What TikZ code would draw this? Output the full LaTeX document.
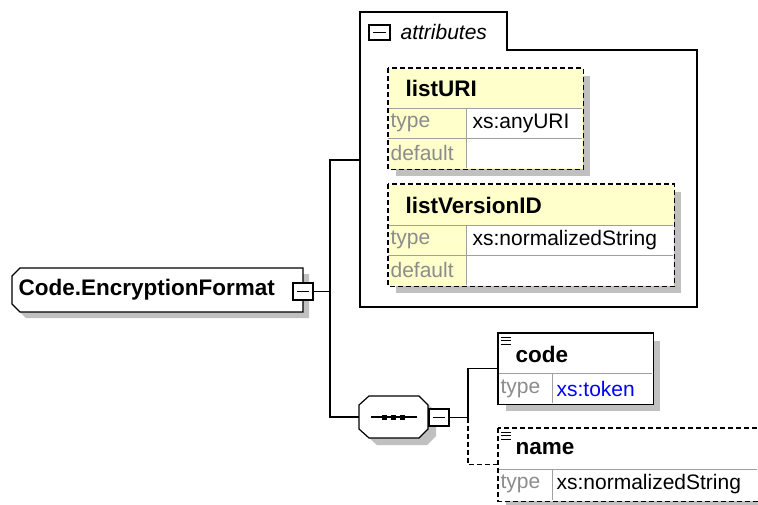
\documentclass[tikz,border=0pt]{standalone}
\usepackage{fontspec}
\setmainfont{Liberation Sans}
\usetikzlibrary{positioning}
\definecolor{xyellow}{HTML}{FFFFCC}
\definecolor{xshadow}{HTML}{C0C0C0}
\definecolor{xgrid}{HTML}{A0A0A0}
\definecolor{xlabel}{HTML}{8C8C8C}
\definecolor{xblue}{HTML}{0000FF}

\tikzset{
  shadowed/.style={preaction={fill=xshadow, transform canvas={shift={(7pt,-7pt)}}}},
  compbox/.style={rectangle, inner sep=0pt, anchor=north west, shadowed},
  attrbox/.style={compbox, fill=xyellow},
  elembox/.style={compbox, fill=white},
  dashborder/.style={dash pattern=on 5pt off 3pt},
  minusbox/.style={rectangle, draw, fill=white, inner sep=0pt, minimum width=20pt, minimum height=17pt,
    path picture={\draw ([xshift=4pt]path picture bounding box.west) -- ([xshift=-4pt]path picture bounding box.east);}},
  keytext/.style={font=\fontsize{21}{24}\selectfont, text=xlabel, anchor=west, inner sep=0pt},
  valtext/.style={font=\fontsize{21}{24}\selectfont, anchor=west, inner sep=0pt},
  titletext/.style={font=\fontsize{22.5}{26}\selectfont\bfseries, anchor=west, inner sep=0pt},
  cellline/.style={xgrid, line width=1pt},
  wire/.style={line width=1.3pt},
}

\begin{document}
\begin{tikzpicture}[x=1pt, y=-1pt, line width=1.2pt]

%% Background
\fill[white] (0,0) rectangle (758,504);
\useasboundingbox (0,0) rectangle (758,504);

%% ── Code.EncryptionFormat ───────────────────────────────────────────────
\fill[xshadow] (26,274) -- (309,274) -- (309,318) -- (26,318) -- (18,310) -- (18,282) -- cycle;
\draw[fill=white] (20,268) -- (303,268) -- (303,312) -- (20,312) -- (12,304) -- (12,276) -- cycle;
\node[titletext] (root) at (18,290) {Code.EncryptionFormat};
\node[minusbox] (rootminus) at (303,291.5) {};

%% ── attributes group ────────────────────────────────────────────────────
\draw[fill=white] (360,12) -- (507,12) -- (507,50) -- (697,50) -- (697,307) -- (360,307) -- cycle;
\node[minimum width=337pt, minimum height=295pt, inner sep=0pt, anchor=north west] (attrs) at (360,12) {};
\node[minusbox, minimum width=21pt, minimum height=15pt] (attrsminus) at (379.5,32.5) {};
\node[font=\fontsize{21}{24}\selectfont\itshape, anchor=west, inner sep=0pt] (attrslabel) at (400,32) {attributes};

%% listURI
\node[attrbox, minimum width=194pt, minimum height=100pt] (listuri) at (388,68) {};
\fill[white] (466,108) rectangle (582,168);
\draw[cellline] (388,108) -- (582,108) (388,138) -- (582,138) (466,108) -- (466,168);
\draw[dashborder] (listuri.north west) rectangle (listuri.south east);
\node[titletext] (listurititle) at (405,88) {listURI};
\node[keytext] at (390,123) {type};
\node[valtext] at (472,123) {xs:anyURI};
\node[keytext] at (390,153) {default};

%% listVersionID
\node[attrbox, minimum width=285pt, minimum height=101pt] (listver) at (388,184) {};
\fill[white] (466,225) rectangle (673,285);
\draw[cellline] (388,225) -- (673,225) (388,255) -- (673,255) (466,225) -- (466,285);
\draw[dashborder] (listver.north west) rectangle (listver.south east);
\node[titletext] (listvertitle) at (405,205) {listVersionID};
\node[keytext] at (390,240) {type};
\node[valtext] at (472,240) {xs:normalizedString};
\node[keytext] at (390,270) {default};

%% ── sequence ────────────────────────────────────────────────────────────
\node[minimum width=69pt, minimum height=42pt, inner sep=0pt, anchor=west] (seq) at (359,417) {};
\fill[xshadow] (377,403) -- (427,403) -- (436,412) -- (436,436) -- (427,445) -- (377,445) -- (367,436) -- (367,412) -- cycle;
\draw[fill=white] (369,396) -- (419,396) -- (428,405) -- (428,429) -- (419,438) -- (369,438) -- (359,429) -- (359,405) -- cycle;
\draw (371,417) -- (417,417);
\foreach \x in {384,393,402}
  \fill ({\x-2.5},414.5) rectangle ({\x+2.5},419.5);
\node[minusbox] (seqminus) at (439,417.5) {};

%% ── connectors ──────────────────────────────────────────────────────────
\coordinate (fork) at (330,291.5);
\coordinate (branch) at (468,417.5);
\draw[wire] (rootminus.east) -- (fork);
\draw[wire] (attrs.west) -| (fork) |- (seq.west);
\draw[wire] (seqminus.east) -- (branch);

%% ── code ────────────────────────────────────────────────────────────────
\node[elembox, minimum width=154pt, minimum height=70pt] (code) at (498,333) {};
\draw[cellline] (498,373) -- (652,373) (552,373) -- (552,403);
\draw (code.north west) rectangle (code.south east);
\foreach \y in {337,340.5,344}
  \draw[line width=1pt] (501,\y) -- (511,\y);
\node[titletext] (codetitle) at (515,354) {code};
\node[keytext] at (500,389) {type};
\node[valtext, text=xblue] at (556,389) {xs:token};

%% ── name ────────────────────────────────────────────────────────────────
\node[elembox, minimum width=259pt, minimum height=72pt] (name) at (498,428) {};
\draw[cellline] (498,469) -- (757,469) (552,469) -- (552,500);
\draw[dashborder] (name.north west) rectangle (name.south east);
\foreach \y in {432,435.5,439}
  \draw[line width=1pt] (501,\y) -- (511,\y);
\node[titletext] (nametitle) at (515,449) {name};
\node[keytext] at (500,484) {type};
\node[valtext] at (556,484) {xs:normalizedString};

\draw[wire] (branch) |- (code.west);
\draw[wire, dashborder] (branch) |- (name.west);

\end{tikzpicture}
\end{document}
